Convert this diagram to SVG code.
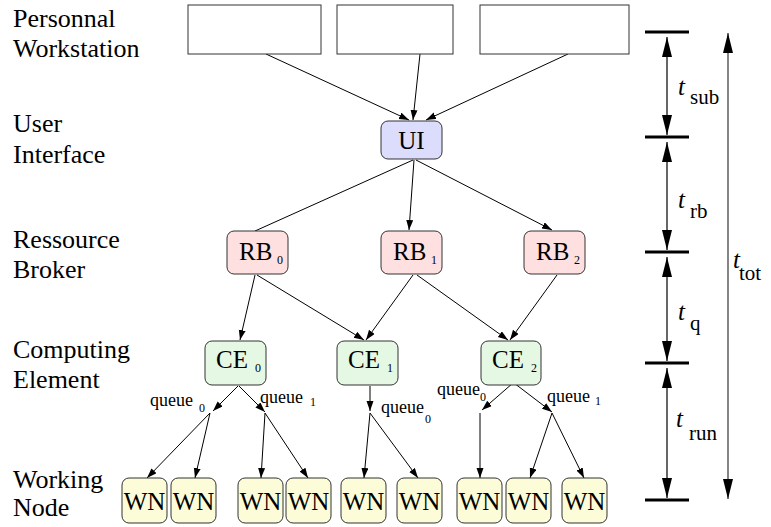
<svg xmlns="http://www.w3.org/2000/svg" width="771" height="527" viewBox="0 0 771 527">
<style>
  text { font-family: 'Liberation Serif', 'Times New Roman', Times, 'DejaVu Serif', serif; fill: #000; }
  .lbl { font-size: 26px; }
  .nt { font-size: 25px; }
  .sub { font-size: 12px; }
  .q { font-size: 18px; }
  .ti { font-size: 25px; font-style: italic; }
  .ts { font-size: 21px; }
  .pw { fill: #fff; stroke: #333; stroke-width: 1; }
  .ui { fill: #dcdcfc; stroke: #333; stroke-width: 1; }
  .rb { fill: #ffe0e0; stroke: #333; stroke-width: 1; }
  .ce { fill: #e4f8e4; stroke: #333; stroke-width: 1; }
  .wn { fill: #fcfcd8; stroke: #333; stroke-width: 1; }
  .c { stroke: #000; stroke-width: 1; fill: none; }
  .ca { stroke: #000; stroke-width: 1; fill: none; marker-end: url(#ah); }
  .tick { stroke: #000; stroke-width: 3; }
  .dim { stroke: #000; stroke-width: 1.2; fill: none; marker-start: url(#big); marker-end: url(#big); }
  .tot { stroke: #666; stroke-width: 1.6; fill: none; marker-start: url(#big); marker-end: url(#big); }
</style>
<defs>
  <marker id="ah" markerUnits="userSpaceOnUse" markerWidth="11" markerHeight="8" refX="10" refY="3.5" orient="auto">
    <path d="M0,0 L10,3.5 L0,7 z" fill="#000"/>
  </marker>
  <marker id="big" markerUnits="userSpaceOnUse" markerWidth="21" markerHeight="11" refX="20" refY="5" orient="auto-start-reverse">
    <path d="M0,0 L20,5 L0,10 z" fill="#000"/>
  </marker>
</defs>
<rect width="771" height="527" fill="#fff"/>

<g id="layer-labels">
  <text class="lbl" x="13" y="27">Personnal</text>
  <text class="lbl" x="13" y="57">Workstation</text>
  <text class="lbl" x="13" y="132">User</text>
  <text class="lbl" x="13" y="163">Interface</text>
  <text class="lbl" x="13" y="248">Ressource</text>
  <text class="lbl" x="13" y="278">Broker</text>
  <text class="lbl" x="13" y="358">Computing</text>
  <text class="lbl" x="13" y="388">Element</text>
  <text class="lbl" x="13" y="488">Working</text>
  <text class="lbl" x="13" y="516">Node</text>
</g>

<g id="connectors">
  <line class="ca" x1="266" y1="54" x2="409" y2="120"/>
  <line class="ca" x1="420" y1="54" x2="413" y2="120"/>
  <line class="ca" x1="568" y1="54" x2="426" y2="120"/>
  <line class="c" x1="413" y1="160" x2="255" y2="231"/>
  <line class="ca" x1="414" y1="160" x2="409" y2="230"/>
  <line class="ca" x1="416" y1="160" x2="552" y2="230"/>
  <line class="ca" x1="255" y1="275" x2="240" y2="340"/>
  <line class="ca" x1="257" y1="275" x2="364" y2="340"/>
  <line class="ca" x1="413" y1="275" x2="366" y2="340"/>
  <line class="ca" x1="417" y1="275" x2="508" y2="340"/>
  <line class="ca" x1="557" y1="275" x2="510" y2="340"/>
  <line class="ca" x1="238" y1="386" x2="213" y2="411"/>
  <line class="ca" x1="239" y1="386" x2="265" y2="412"/>
  <line class="ca" x1="210" y1="413" x2="147" y2="478"/>
  <line class="ca" x1="210" y1="413" x2="195" y2="478"/>
  <line class="ca" x1="265" y1="413" x2="261" y2="478"/>
  <line class="ca" x1="265" y1="413" x2="308" y2="478"/>
  <line class="ca" x1="370" y1="386" x2="370" y2="411"/>
  <line class="ca" x1="370" y1="413" x2="364" y2="478"/>
  <line class="ca" x1="370" y1="413" x2="418" y2="478"/>
  <line class="ca" x1="513" y1="383" x2="482" y2="410"/>
  <line class="ca" x1="514" y1="383" x2="552" y2="412"/>
  <line class="ca" x1="480" y1="413" x2="480" y2="478"/>
  <line class="ca" x1="552" y1="413" x2="530" y2="478"/>
  <line class="ca" x1="552" y1="413" x2="584" y2="478"/>
</g>

<g id="queue-labels">
  <text class="q" x="150" y="406">queue</text><text class="sub" x="199" y="412">0</text>
  <text class="q" x="260" y="403">queue</text><text class="sub" x="310" y="406">1</text>
  <text class="q" x="381" y="413">queue</text><text class="sub" x="425" y="423">0</text>
  <text class="q" x="437" y="395">queue</text><text class="sub" x="480" y="401">0</text>
  <text class="q" x="547" y="402">queue</text><text class="sub" x="595" y="405">1</text>
</g>

<g id="pw0"><rect class="pw" x="188" y="5" width="133" height="49"/></g>
<g id="pw1"><rect class="pw" x="337" y="5" width="116" height="49"/></g>
<g id="pw2"><rect class="pw" x="480" y="5" width="149" height="49"/></g>

<g id="ui"><rect class="ui" x="381" y="121" width="61" height="38" rx="7"/><text class="nt" x="411.5" y="149" text-anchor="middle">UI</text></g>

<g id="rb0"><rect class="rb" x="227" y="231" width="61" height="43" rx="7"/><text class="nt" x="239" y="260">RB</text><text class="sub" x="277" y="264">0</text></g>
<g id="rb1"><rect class="rb" x="381" y="231" width="61" height="43" rx="7"/><text class="nt" x="393" y="260">RB</text><text class="sub" x="431" y="264">1</text></g>
<g id="rb2"><rect class="rb" x="524" y="231" width="61" height="43" rx="7"/><text class="nt" x="536" y="260">RB</text><text class="sub" x="574" y="264">2</text></g>

<g id="ce0"><rect class="ce" x="205" y="341" width="61" height="44" rx="7"/><text class="nt" x="216" y="368">CE</text><text class="sub" x="255" y="372">0</text></g>
<g id="ce1"><rect class="ce" x="337" y="341" width="61" height="44" rx="7"/><text class="nt" x="348" y="368">CE</text><text class="sub" x="387" y="372">1</text></g>
<g id="ce2"><rect class="ce" x="481" y="341" width="60" height="44" rx="7"/><text class="nt" x="492" y="368">CE</text><text class="sub" x="531" y="372">2</text></g>

<g id="wn0"><rect class="wn" x="122" y="478" width="45" height="45" rx="7"/><text class="nt" x="144.5" y="510" text-anchor="middle">WN</text></g>
<g id="wn1"><rect class="wn" x="171" y="478" width="45" height="45" rx="7"/><text class="nt" x="193.5" y="510" text-anchor="middle">WN</text></g>
<g id="wn2"><rect class="wn" x="238" y="478" width="45" height="45" rx="7"/><text class="nt" x="260.5" y="510" text-anchor="middle">WN</text></g>
<g id="wn3"><rect class="wn" x="286" y="478" width="45" height="45" rx="7"/><text class="nt" x="308.5" y="510" text-anchor="middle">WN</text></g>
<g id="wn4"><rect class="wn" x="341" y="478" width="45" height="45" rx="7"/><text class="nt" x="363.5" y="510" text-anchor="middle">WN</text></g>
<g id="wn5"><rect class="wn" x="397" y="478" width="45" height="45" rx="7"/><text class="nt" x="419.5" y="510" text-anchor="middle">WN</text></g>
<g id="wn6"><rect class="wn" x="457" y="478" width="45" height="45" rx="7"/><text class="nt" x="479.5" y="510" text-anchor="middle">WN</text></g>
<g id="wn7"><rect class="wn" x="506" y="478" width="45" height="45" rx="7"/><text class="nt" x="528.5" y="510" text-anchor="middle">WN</text></g>
<g id="wn8"><rect class="wn" x="562" y="478" width="45" height="45" rx="7"/><text class="nt" x="584.5" y="510" text-anchor="middle">WN</text></g>

<g id="timeline">
  <line class="tick" x1="645" y1="32" x2="689" y2="32"/>
  <line class="tick" x1="645" y1="137" x2="689" y2="137"/>
  <line class="tick" x1="645" y1="252" x2="689" y2="252"/>
  <line class="tick" x1="645" y1="363" x2="689" y2="363"/>
  <line class="tick" x1="645" y1="500" x2="689" y2="500"/>
  <line class="dim" x1="667" y1="37" x2="667" y2="135"/>
  <line class="dim" x1="667" y1="142" x2="667" y2="250"/>
  <line class="dim" x1="667" y1="257" x2="667" y2="361"/>
  <line class="dim" x1="667" y1="368" x2="667" y2="498"/>
  <line class="tot" x1="728" y1="33" x2="728" y2="499"/>
  <text class="ti" x="678" y="95">t</text><text class="ts" x="690" y="104">sub</text>
  <text class="ti" x="678" y="208">t</text><text class="ts" x="690" y="218">rb</text>
  <text class="ti" x="678" y="320">t</text><text class="ts" x="690" y="330">q</text>
  <text class="ti" x="676" y="427">t</text><text class="ts" x="689" y="440">run</text>
  <text class="ti" x="733" y="268">t</text><text class="ts" x="739" y="280">tot</text>
</g>
</svg>
